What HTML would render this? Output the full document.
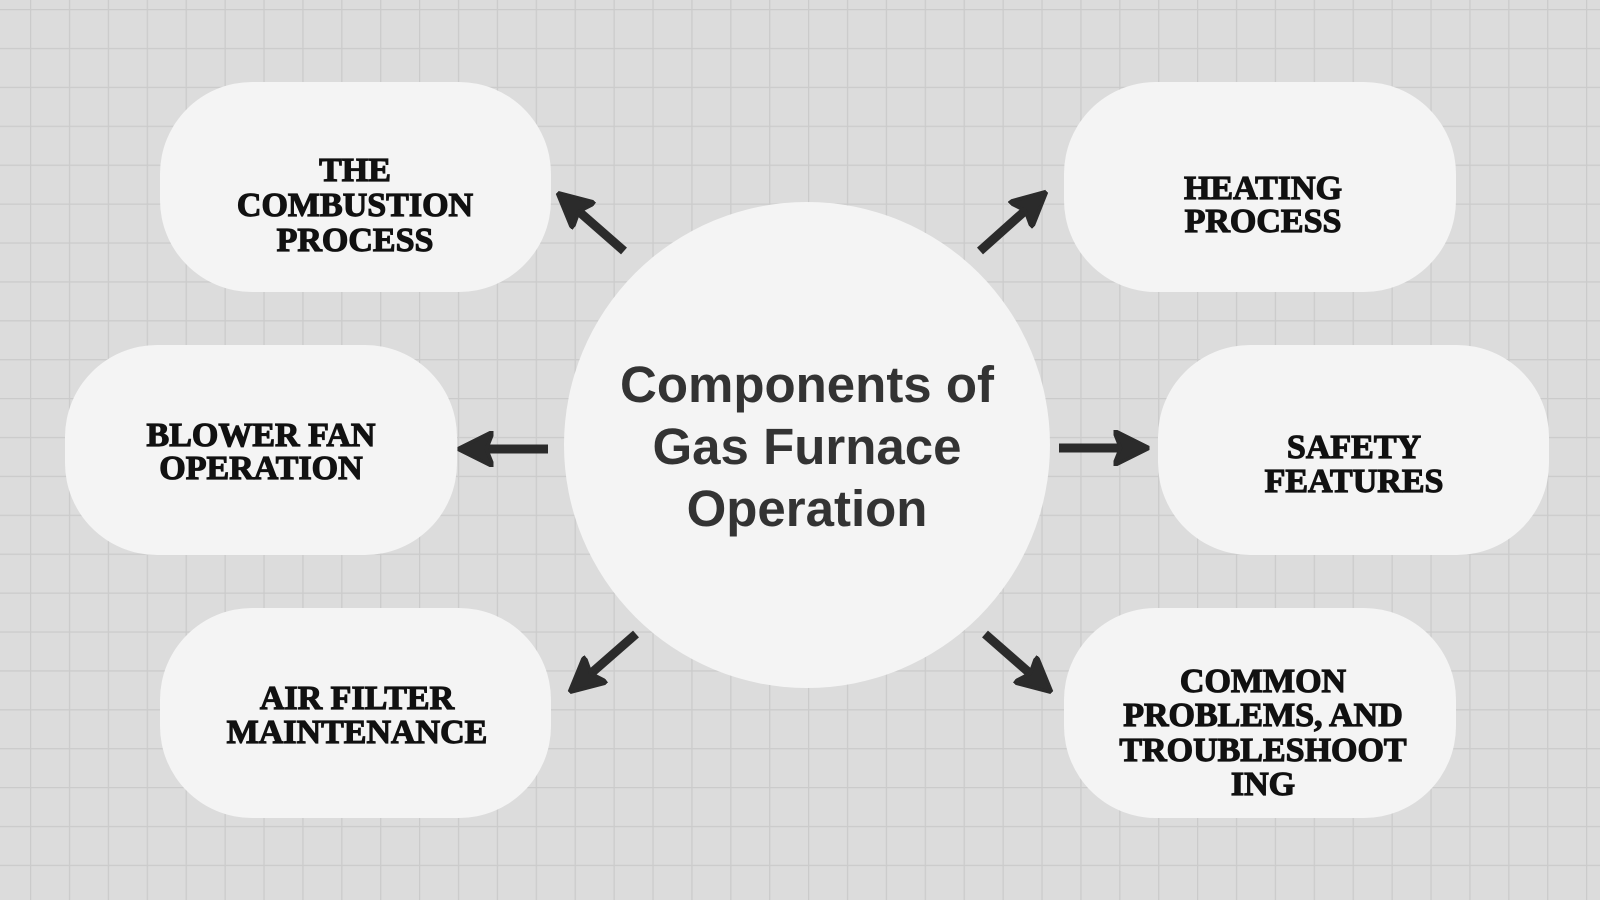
<!DOCTYPE html>
<html><head><meta charset="utf-8"><style>
html,body{margin:0;padding:0;width:1600px;height:900px;overflow:hidden;background:#dcdcdc}
</style></head><body>
<svg width="1600" height="900" viewBox="0 0 1600 900" xmlns="http://www.w3.org/2000/svg">
<defs>
<pattern id="g" x="30" y="9" width="38.9" height="38.9" patternUnits="userSpaceOnUse">
<rect width="38.9" height="38.9" fill="#dcdcdc"/>
<path d="M0 0H38.9M0 0V38.9" stroke="#cbcbcb" stroke-width="2.5" fill="none"/>
</pattern>
<marker id="a" viewBox="0 0 10 10" refX="6" refY="5" markerWidth="4" markerHeight="4" orient="auto">
<path d="M0 0L10 5L0 10L2 5Z" fill="#2b2b2b" stroke="#2b2b2b" stroke-width="1" stroke-linejoin="round"/>
</marker>
</defs>
<rect width="1600" height="900" fill="url(#g)"/>
<g fill="#f5f5f5" fill-opacity="0.97">
<rect x="160" y="82" width="391" height="210" rx="92"/>
<rect x="1064" y="82" width="392" height="210" rx="92"/>
<rect x="65" y="345" width="392" height="210" rx="92"/>
<rect x="1158" y="345" width="391" height="210" rx="92"/>
<rect x="160" y="608" width="391" height="210" rx="92"/>
<rect x="1064" y="608" width="392" height="210" rx="92"/>
<circle cx="807" cy="445" r="243"/>
</g>
<g stroke="#2b2b2b" stroke-width="9" marker-end="url(#a)">
<line x1="624" y1="251" x2="568" y2="202"/>
<line x1="980" y1="251" x2="1036" y2="201"/>
<line x1="548" y1="449" x2="472" y2="449"/>
<line x1="1059" y1="448" x2="1135" y2="448"/>
<line x1="636" y1="634" x2="580" y2="683"/>
<line x1="985" y1="634" x2="1041" y2="683"/>
</g>
<g font-family="'Liberation Sans',sans-serif" font-weight="bold" font-size="51" fill="#333" text-anchor="middle">
<text x="807" y="402">Components of</text>
<text x="807" y="464">Gas Furnace</text>
<text x="807" y="526">Operation</text>
</g>
<g font-family="'Liberation Serif',serif" font-weight="bold" font-size="34" fill="#111" stroke="#111" stroke-width="1.2" text-anchor="middle">
<text x="355" y="181">THE</text>
<text x="355" y="216">COMBUSTION</text>
<text x="355" y="251">PROCESS</text>
<text x="1263" y="199">HEATING</text>
<text x="1263" y="232">PROCESS</text>
<text x="261" y="446">BLOWER FAN</text>
<text x="261" y="479">OPERATION</text>
<text x="1354" y="458">SAFETY</text>
<text x="1354" y="492">FEATURES</text>
<text x="357" y="709">AIR FILTER</text>
<text x="357" y="743">MAINTENANCE</text>
<text x="1263" y="692">COMMON</text>
<text x="1263" y="726">PROBLEMS, AND</text>
<text x="1263" y="761">TROUBLESHOOT</text>
<text x="1263" y="795">ING</text>
</g>
</svg>
</body></html>
